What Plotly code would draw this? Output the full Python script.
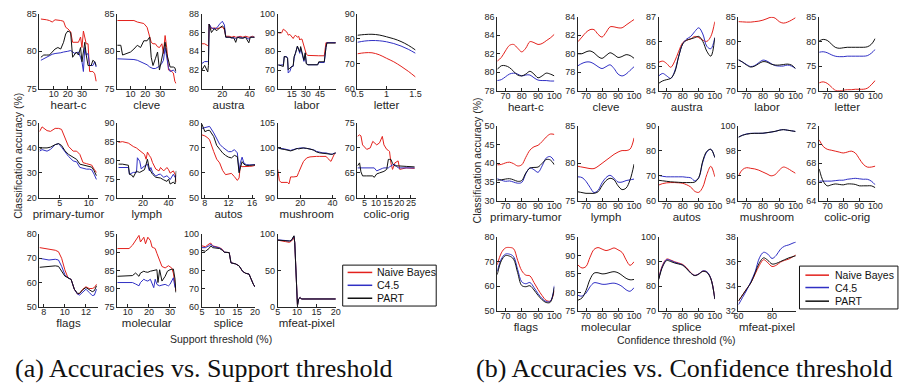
import plotly.graph_objects as go

W, H = 902, 388
NB_COLOR = "#e3211c"
C45_COLOR = "#3030c4"
PART_COLOR = "#111111"
AXIS_COLOR = "#262626"
SANS = "Liberation Sans, Arial, sans-serif"
SERIF = "Liberation Serif, Times New Roman, serif"

SERIES_NAMES = ["Naive Bayes", "C4.5", "PART"]

# ---------------- accuracy vs. support threshold ----------------
heart_c_sup_x = [1, 3, 5, 7, 9, 11, 13, 15, 17, 18.5, 20, 22, 23.4, 25, 26, 27.5, 29, 30, 31, 32, 33, 34.3, 35.4, 36.5, 37.7, 39, 40]
heart_c_sup_nb = [84.3, 84.3, 84.2, 84.1, 83.9, 84.2, 84.2, 84.1, 84.0, 83.2, 83.0, 82.6, 81.2, 81.2, 81.2, 81.2, 81.9, 80.5, 82.7, 82.0, 81.0, 81.0, 77.3, 77.3, 77.3, 77.0, 76.0]
heart_c_sup_c45 = [78.8, 79.0, 79.3, 79.5, 79.6, 79.7, 79.7, 79.8, 79.9, 79.9, 80.0, 80.1, 79.9, 79.7, 79.8, 79.9, 79.2, 78.6, 77.3, 80.5, 79.5, 79.7, 78.1, 78.1, 78.1, 78.6, 77.9]
heart_c_sup_part = [79.2, 79.5, 79.5, 79.5, 79.9, 80.3, 80.5, 80.3, 81.2, 82.3, 82.7, 82.5, 79.2, 79.7, 79.9, 79.5, 80.5, 78.6, 79.8, 81.2, 79.5, 78.1, 78.1, 78.1, 78.8, 78.6, 78.1]

cleve_sup_x = [1, 3.4, 4.6, 7, 10, 12.3, 14.6, 16.8, 19, 21.2, 23, 24, 25.2, 26.8, 28.3, 29.6, 31.2, 32.3, 33.4, 34.5, 35.7, 36.8, 39, 40, 40.8]
cleve_sup_nb = [84.1, 84.1, 84.1, 84.1, 84.1, 84.1, 83.9, 83.8, 83.7, 83.2, 82.0, 81.2, 81.0, 81.0, 80.6, 80.5, 81.0, 79.7, 82.1, 80.5, 77.5, 77.5, 77.1, 76.0, 75.7]
cleve_sup_c45 = [79.0, 79.0, 79.0, 79.0, 78.9, 78.9, 78.8, 78.6, 78.4, 78.2, 77.9, 77.8, 77.7, 77.7, 77.9, 78.0, 78.4, 78.8, 80.5, 79.2, 77.8, 77.3, 77.5, 77.3, 77.1]
cleve_sup_part = [80.8, 80.8, 79.5, 79.7, 79.9, 80.3, 80.8, 80.5, 81.4, 81.4, 81.9, 79.2, 78.1, 79.0, 79.9, 77.5, 79.0, 80.0, 81.2, 79.7, 78.5, 77.9, 77.9, 77.8, 77.3]

austra_sup_x = [5, 7, 9.3, 9.8, 10.3, 12, 14, 16, 18, 20, 21.5, 22.5, 25, 27, 28.5, 29.8, 31, 33, 35, 37, 39.4, 40.5, 42, 43.5]
austra_sup_nb = [84.8, 84.8, 84.6, 84.6, 86.9, 86.4, 86.5, 86.4, 86.5, 86.6, 86.3, 85.6, 85.6, 85.5, 85.6, 85.5, 85.5, 85.6, 85.5, 85.6, 85.5, 85.5, 85.6, 85.5]
austra_sup_c45 = [82.7, 82.9, 82.9, 82.9, 86.9, 86.5, 86.4, 86.5, 86.9, 87.2, 86.8, 85.5, 85.5, 85.4, 85.5, 85.3, 85.5, 85.5, 85.4, 85.5, 85.3, 85.5, 85.5, 85.5]
austra_sup_part = [82.0, 82.5, 81.8, 82.5, 86.9, 86.0, 86.4, 86.2, 86.5, 86.7, 86.5, 85.5, 85.5, 85.4, 85.4, 84.95, 85.5, 85.4, 85.4, 85.5, 84.9, 85.5, 85.5, 85.5]

labor_sup_x = [0.7, 4.2, 6, 7, 9.5, 10.5, 11.2, 13, 14.7, 16.5, 17.5, 18.9, 21, 22.4, 23.5, 24.5, 25.9, 27, 28, 29.4, 30.5, 32.2, 39.2, 42.7, 43.8, 49.7, 51.5, 52.5, 62]
labor_sup_nb = [89.8, 89.8, 91.8, 91.5, 90.4, 89.5, 88.6, 89.0, 87.7, 86.8, 87.7, 88.6, 87.5, 88.0, 86.0, 86.5, 86.5, 84.2, 83.0, 80.7, 78.5, 77.8, 77.5, 77.6, 77.6, 77.6, 84.6, 84.6, 84.6]
labor_sup_c45 = [72.5, 72.5, 72.8, 77.2, 77.2, 76.3, 68.4, 69.3, 71.9, 71.9, 76.3, 78.9, 82.5, 80.7, 78.9, 81.6, 78.9, 76.3, 74.6, 78.9, 73.7, 72.8, 72.8, 72.8, 74.0, 74.0, 82.0, 84.6, 84.6]
labor_sup_part = [72.8, 72.3, 71.9, 77.2, 76.9, 76.3, 70.2, 71.1, 71.9, 72.3, 77.2, 78.9, 82.8, 81.0, 79.7, 82.5, 79.2, 76.6, 75.2, 79.2, 73.3, 72.8, 72.8, 72.8, 74.4, 74.4, 82.0, 84.4, 84.4]

letter_sup_x = [0.5, 0.625, 0.75, 0.875, 1.0, 1.125, 1.25, 1.375, 1.5]
letter_sup_nb = [74.0, 74.4, 74.4, 73.6, 72.2, 70.8, 69.0, 67.0, 64.7]
letter_sup_c45 = [78.6, 79.1, 79.3, 79.2, 78.8, 78.1, 77.1, 75.8, 74.2]
letter_sup_part = [81.4, 81.7, 81.8, 81.5, 80.8, 80.0, 78.9, 77.4, 75.5]

primary_tumor_sup_x = [1.5, 1.95, 2.8, 3.4, 4.2, 4.8, 5.3, 5.9, 6.5, 7.3, 7.9, 8.45, 9.0, 9.6, 10.1, 10.5, 10.9, 11.3]
primary_tumor_sup_nb = [46.5, 48.4, 46.9, 46.6, 47.8, 47.8, 47.4, 43.9, 40.6, 38.7, 38.7, 37.4, 34.1, 33.7, 33.4, 33.1, 31.5, 30.2]
primary_tumor_sup_c45 = [38.7, 39.3, 38.7, 39.4, 41.3, 41.7, 40.3, 38.2, 36.6, 34.8, 34.4, 32.2, 31.8, 31.5, 31.5, 31.2, 29.5, 27.4]
primary_tumor_sup_part = [39.4, 40.0, 40.0, 40.3, 41.3, 41.7, 41.0, 38.8, 37.4, 36.1, 35.4, 33.5, 33.2, 32.8, 32.5, 32.3, 30.9, 28.9]

lymph_sup_x = [1, 4, 8.7, 9.5, 11.2, 12.5, 15, 15.7, 17.5, 18.7, 20, 21.2, 22.5, 23.5, 25, 26.2, 27.5, 30, 32.5, 33.7, 36.2, 38.7, 40, 41.2, 43.7, 45, 46]
lymph_sup_nb = [84.8, 85.0, 84.6, 84.4, 84.2, 83.7, 83.3, 83.1, 82.8, 82.4, 82.0, 81.6, 80.3, 82.2, 81.3, 80.7, 79.4, 77.7, 77.2, 78.1, 77.2, 78.1, 77.5, 76.6, 77.2, 76.3, 74.2]
lymph_sup_c45 = [78.1, 78.1, 78.1, 76.3, 76.6, 76.8, 76.8, 80.7, 79.8, 77.7, 78.2, 78.5, 78.8, 79.0, 77.2, 78.1, 76.8, 75.8, 76.3, 76.3, 75.5, 75.9, 75.5, 74.9, 76.3, 75.5, 75.9]
lymph_sup_part = [79.0, 79.0, 78.7, 76.3, 76.1, 75.5, 77.2, 77.0, 76.8, 77.0, 77.2, 77.5, 79.0, 80.3, 77.7, 77.0, 76.3, 75.5, 75.5, 75.3, 74.8, 74.4, 75.0, 73.7, 74.2, 73.7, 77.2]

autos_sup_x = [7.5, 8.0, 8.5, 8.8, 9.5, 10.0, 10.5, 11.0, 11.5, 12.0, 12.5, 13.0, 13.5, 13.8, 14.0, 14.3, 14.6, 15.0, 15.5, 16.0, 16.5]
autos_sup_nb = [75.2, 74.8, 74.0, 73.2, 68.5, 65.5, 64.0, 61.0, 59.3, 59.5, 59.8, 58.5, 57.0, 58.0, 62.9, 62.5, 62.6, 62.6, 62.6, 62.7, 63.0]
autos_sup_c45 = [77.8, 78.0, 78.4, 78.6, 76.0, 73.5, 71.5, 70.3, 69.5, 68.5, 68.5, 69.3, 68.0, 60.5, 64.0, 66.3, 64.0, 63.3, 63.2, 63.2, 63.3]
autos_sup_part = [79.5, 76.5, 77.0, 77.0, 74.5, 71.0, 69.5, 68.0, 67.0, 66.3, 66.0, 67.0, 66.5, 60.0, 62.0, 64.5, 63.5, 63.0, 63.0, 63.0, 63.2]

mushroom_sup_x = [6, 7, 8, 10, 12, 13, 14, 16, 18, 19, 20, 21, 22, 24, 26, 28, 29, 30, 32, 34, 36, 37, 38, 39, 40, 41, 42]
mushroom_sup_nb = [95.7, 93.5, 93.1, 93.1, 93.1, 92.8, 94.2, 94.2, 94.3, 95.1, 96.0, 96.6, 97.3, 98.0, 98.2, 98.3, 98.3, 98.3, 98.3, 98.3, 98.3, 97.9, 97.6, 97.3, 98.0, 98.7, 99.0]
mushroom_sup_c45 = [100.0, 100.0, 99.9, 99.8, 99.7, 99.6, 99.5, 99.7, 99.9, 99.9, 100.0, 100.0, 100.0, 99.9, 99.8, 99.7, 99.5, 99.3, 99.1, 99.0, 99.0, 98.9, 98.8, 98.7, 98.8, 98.9, 99.0]
mushroom_sup_part = [100.1, 99.9, 99.8, 99.7, 99.6, 99.5, 99.4, 99.6, 99.9, 99.8, 99.9, 100.0, 100.0, 99.9, 99.8, 99.6, 99.4, 99.2, 99.0, 98.9, 98.9, 98.8, 98.7, 98.6, 98.7, 98.9, 99.0]

colic_orig_sup_x = [2, 2.9, 3.5, 4.2, 6, 7.5, 8.6, 9.2, 10.3, 11.5, 12.7, 13.4, 14.6, 15.3, 15.8, 16.4, 17.1, 18.1, 19.5, 20.2, 23, 26.6]
colic_orig_sup_nb = [72.3, 72.6, 72.4, 70.6, 69.7, 70.0, 71.3, 71.0, 70.6, 71.0, 72.3, 70.6, 69.7, 69.5, 69.3, 67.0, 65.7, 67.0, 67.4, 65.7, 66.0, 65.9]
colic_orig_sup_c45 = [66.0, 66.0, 66.0, 66.0, 66.0, 66.0, 66.0, 66.0, 65.4, 65.7, 65.9, 66.0, 66.0, 66.0, 66.2, 66.4, 66.6, 66.7, 66.0, 66.0, 66.0, 66.0]
colic_orig_sup_part = [66.4, 67.0, 65.2, 64.4, 64.4, 64.4, 64.4, 64.1, 64.8, 65.0, 65.1, 65.3, 65.7, 67.7, 67.7, 67.7, 66.9, 66.4, 66.4, 66.4, 66.3, 66.2]

flags_sup_x = [7.6, 8.5, 9.1, 9.4, 9.7, 10.0, 10.3, 10.6, 10.9, 11.2, 11.4, 11.7, 12.0, 12.3, 12.6, 12.8, 13.0]
flags_sup_nb = [74.4, 73.6, 73.3, 72.7, 70.0, 65.3, 62.0, 61.3, 57.3, 55.3, 55.6, 57.3, 58.3, 57.6, 57.6, 58.0, 59.3]
flags_sup_c45 = [70.0, 69.3, 69.6, 69.3, 66.7, 63.3, 62.0, 61.3, 57.3, 55.3, 54.9, 56.0, 57.3, 56.0, 54.7, 54.9, 57.3]
flags_sup_part = [66.3, 66.7, 66.9, 66.7, 64.7, 62.7, 62.0, 61.3, 57.3, 55.6, 55.6, 57.1, 58.0, 57.1, 56.3, 56.7, 58.7]

molecular_sup_x = [5, 10.6, 12.2, 13.7, 15.3, 16.0, 17.6, 18.4, 19.5, 20.7, 21.5, 22.3, 23.0, 23.8, 24.3, 25.1, 26.2, 27.7, 28.8, 29.3, 30.0, 30.8, 31.6, 32.4, 32.8]
molecular_sup_nb = [91.0, 91.0, 91.9, 93.2, 94.6, 92.8, 94.1, 92.3, 94.1, 93.2, 91.4, 91.2, 91.0, 89.7, 89.0, 87.9, 86.1, 85.7, 86.1, 86.3, 86.0, 85.7, 84.3, 81.7, 79.4]
molecular_sup_c45 = [81.7, 81.7, 81.7, 81.3, 80.8, 81.7, 82.6, 82.3, 82.1, 82.6, 81.5, 80.3, 82.6, 81.2, 81.0, 80.8, 81.0, 81.2, 80.9, 80.8, 81.2, 82.0, 83.0, 80.3, 80.3]
molecular_sup_part = [83.4, 83.4, 83.6, 84.3, 83.4, 84.3, 84.8, 84.6, 84.5, 84.8, 84.9, 85.0, 85.1, 85.2, 81.7, 85.2, 82.1, 83.4, 84.8, 85.0, 85.2, 85.3, 85.4, 82.6, 79.0]

splice_sup_x = [5, 6, 7, 7.5, 8, 9, 10, 10.8, 11.3, 12.7, 13.2, 14.5, 15.0, 15.5, 16.5, 17.3, 18.3, 18.8, 19.5, 20]
splice_sup_nb = [93.5, 93.0, 94.5, 95.0, 93.5, 93.0, 92.5, 91.5, 90.0, 89.8, 84.2, 83.6, 83.0, 82.5, 79.5, 78.5, 78.0, 75.5, 72.5, 71.0]
splice_sup_c45 = [92.5, 92.5, 93.5, 94.5, 93.3, 93.0, 92.3, 91.3, 90.0, 89.8, 84.2, 83.6, 83.0, 82.5, 79.5, 78.5, 78.0, 75.5, 72.5, 71.0]
splice_sup_part = [91.0, 90.5, 92.0, 93.5, 92.5, 92.3, 92.0, 91.0, 90.0, 89.8, 84.2, 83.6, 83.0, 82.5, 79.5, 78.5, 78.0, 75.5, 72.5, 71.0]

mfeat_pixel_sup_x = [5, 6, 7, 8, 8.5, 9, 9.2, 9.4, 9.8, 10.1, 10.4, 10.8, 11.1, 12, 14, 16, 18, 20]
mfeat_pixel_sup_nb = [91.5, 91.0, 89.5, 88.5, 90.0, 93.0, 96.0, 88.0, 33.0, 2.0, 11.0, 13.0, 11.0, 11.0, 11.0, 11.0, 11.0, 11.0]
mfeat_pixel_sup_c45 = [92.0, 91.5, 90.5, 90.5, 91.0, 94.5, 97.0, 88.0, 33.0, 2.0, 11.0, 13.0, 11.0, 11.0, 11.0, 11.0, 11.0, 11.0]
mfeat_pixel_sup_part = [91.5, 91.0, 90.0, 90.3, 91.0, 95.0, 97.5, 88.0, 33.0, 2.0, 11.0, 13.0, 11.0, 11.0, 11.0, 11.0, 11.0, 11.0]

# ---------------- accuracy vs. confidence threshold ----------------
conf_x = [65, 67.5, 70, 72.5, 75, 77.5, 80, 82.5, 85, 87.5, 90, 92.5, 95, 97.5, 100]

heart_c_conf_nb = [81.2, 81.6, 82.3, 82.9, 83.0, 82.6, 82.2, 82.6, 83.3, 83.2, 83.0, 83.1, 83.4, 83.7, 84.1]
heart_c_conf_c45 = [79.1, 79.2, 79.5, 79.8, 79.9, 79.8, 79.6, 79.7, 79.7, 79.4, 79.15, 79.1, 79.1, 79.05, 79.05]
heart_c_conf_part = [80.3, 80.7, 80.7, 80.5, 80.1, 79.7, 79.6, 79.8, 80.1, 79.8, 79.4, 79.6, 79.9, 79.8, 79.6]

cleve_conf_nb = [81.3, 81.8, 82.3, 82.6, 82.6, 82.1, 81.8, 82.3, 82.9, 82.9, 82.8, 82.8, 83.1, 83.4, 83.7]
cleve_conf_c45 = [78.7, 78.95, 79.1, 79.1, 78.9, 78.6, 78.4, 78.6, 78.8, 78.4, 77.8, 77.6, 77.8, 78.2, 78.6]
cleve_conf_part = [80.0, 80.0, 80.2, 80.3, 80.1, 79.7, 79.5, 79.8, 80.1, 79.9, 79.6, 79.7, 79.9, 79.8, 79.5]

austra_conf_nb = [85.15, 85.2, 85.1, 84.95, 85.2, 85.6, 85.95, 86.05, 86.1, 86.2, 86.15, 86.05, 86.0, 86.2, 86.8]
austra_conf_c45 = [84.6, 84.7, 84.6, 84.5, 84.8, 85.4, 85.9, 86.1, 86.2, 86.4, 86.55, 86.3, 85.8, 85.7, 86.15]
austra_conf_part = [84.3, 84.4, 84.45, 84.5, 84.75, 85.4, 85.9, 86.05, 86.1, 86.15, 86.2, 86.0, 85.6, 85.4, 86.15]

labor_conf_nb = [84.0, 83.95, 83.9, 83.9, 84.0, 84.1, 84.3, 84.6, 84.9, 84.7, 84.0, 83.7, 83.9, 84.3, 84.8]
labor_conf_c45 = [76.2, 75.8, 75.3, 74.9, 75.1, 75.7, 76.2, 76.0, 75.5, 75.1, 75.0, 75.0, 75.2, 75.0, 74.5]
labor_conf_part = [76.3, 75.8, 75.2, 74.8, 75.0, 75.5, 75.9, 75.8, 75.4, 75.2, 75.2, 75.3, 75.4, 75.2, 74.5]

letter_conf_nb = [71.6, 71.8, 71.5, 70.8, 70.1, 70.0, 70.1, 70.2, 70.2, 70.3, 70.3, 70.3, 70.5, 71.2, 72.1]
letter_conf_c45 = [77.8, 77.9, 77.7, 77.3, 77.0, 76.9, 76.9, 77.0, 77.0, 77.0, 77.0, 77.0, 77.1, 77.6, 78.4]
letter_conf_part = [80.1, 80.4, 80.2, 79.5, 78.8, 78.6, 78.7, 78.8, 78.8, 78.8, 78.8, 78.8, 78.9, 79.4, 80.6]

primary_tumor_conf_nb = [39.6, 39.7, 40.1, 40.3, 39.9, 39.3, 39.6, 41.6, 43.5, 44.4, 44.8, 45.8, 47.0, 47.8, 47.7]
primary_tumor_conf_c45 = [35.9, 35.5, 35.2, 35.3, 35.0, 34.7, 34.9, 37.2, 38.8, 38.3, 37.6, 39.3, 41.4, 41.8, 40.6]
primary_tumor_conf_part = [35.5, 35.6, 35.8, 35.9, 35.6, 35.2, 35.4, 37.4, 38.7, 38.9, 39.0, 40.0, 41.0, 40.9, 39.6]

lymph_conf_nb = [79.6, 79.5, 79.4, 79.3, 79.3, 79.6, 80.0, 80.4, 80.8, 81.2, 81.5, 81.7, 81.7, 81.9, 83.4]
lymph_conf_c45 = [78.2, 78.1, 77.6, 76.8, 76.1, 76.4, 77.4, 78.1, 78.4, 78.0, 77.5, 77.5, 77.7, 77.8, 77.9]
lymph_conf_part = [76.2, 76.1, 76.0, 76.0, 76.0, 76.2, 77.0, 77.7, 78.0, 77.8, 77.0, 76.5, 76.7, 77.8, 79.9]

autos_conf_nb = [66.3, 66.9, 67.2, 67.3, 67.3, 67.2, 67.0, 66.4, 65.5, 63.8, 63.4, 65.5, 70.5, 73.8, 69.6]
autos_conf_c45 = [70.2, 69.8, 69.6, 69.6, 69.6, 69.6, 69.6, 69.4, 69.2, 68.0, 69.3, 75.5, 79.5, 80.6, 77.3]
autos_conf_part = [68.2, 68.0, 67.8, 67.6, 67.5, 67.4, 67.3, 67.3, 67.3, 67.5, 69.3, 76.0, 79.8, 80.6, 77.3]

mushroom_conf_nb = [96.0, 96.5, 96.65, 96.6, 96.55, 96.45, 96.3, 96.15, 96.0, 96.1, 96.45, 96.7, 96.6, 96.4, 96.2]
mushroom_conf_c45 = [99.1, 99.25, 99.35, 99.4, 99.4, 99.4, 99.4, 99.45, 99.5, 99.55, 99.65, 99.7, 99.65, 99.6, 99.55]
mushroom_conf_part = [99.08, 99.24, 99.33, 99.38, 99.4, 99.4, 99.41, 99.45, 99.5, 99.56, 99.64, 99.69, 99.65, 99.6, 99.54]

colic_orig_conf_nb = [70.5, 69.8, 69.5, 69.4, 69.3, 69.2, 69.1, 69.2, 69.3, 69.1, 68.5, 67.9, 67.6, 67.6, 67.7]
colic_orig_conf_c45 = [66.1, 66.1, 66.1, 66.1, 66.15, 66.2, 66.2, 66.3, 66.35, 66.4, 66.35, 66.3, 66.3, 66.1, 65.7]
colic_orig_conf_part = [67.4, 66.1, 65.6, 65.7, 65.8, 65.75, 65.7, 65.8, 65.8, 65.75, 65.6, 65.6, 65.6, 65.6, 65.4]

flags_conf_nb = [68.7, 73.5, 75.5, 75.7, 75.2, 70.5, 66.3, 64.5, 64.2, 61.5, 58.7, 56.2, 54.3, 54.0, 58.2]
flags_conf_c45 = [66.0, 71.0, 73.0, 73.0, 72.0, 66.8, 61.8, 61.0, 61.5, 59.5, 57.0, 55.0, 53.8, 53.9, 60.2]
flags_conf_part = [64.7, 70.3, 72.4, 72.2, 71.0, 65.5, 60.3, 59.8, 60.2, 58.5, 56.3, 54.5, 53.4, 53.5, 59.6]

molecular_conf_nb = [87.4, 86.6, 87.0, 89.5, 91.6, 92.1, 91.7, 91.3, 91.6, 92.0, 91.5, 90.8, 88.8, 87.3, 88.3]
molecular_conf_c45 = [79.2, 79.0, 79.8, 81.5, 82.6, 82.5, 82.2, 82.2, 82.4, 82.5, 82.2, 81.6, 80.7, 80.3, 81.3]
molecular_conf_part = [77.9, 78.5, 80.5, 83.5, 85.2, 85.3, 85.0, 85.1, 85.4, 85.6, 85.3, 84.6, 83.8, 83.4, 83.5]

splice_conf_nb = [83.3, 88.7, 91.0, 90.6, 89.9, 89.4, 88.8, 87.4, 85.5, 84.4, 85.0, 86.1, 85.8, 83.2, 74.8]
splice_conf_c45 = [83.0, 88.4, 90.8, 90.4, 89.7, 89.2, 88.6, 87.2, 85.4, 84.4, 85.0, 86.2, 85.9, 83.2, 74.8]
splice_conf_part = [82.7, 88.0, 90.4, 90.0, 89.4, 89.0, 88.5, 87.0, 85.3, 84.3, 84.9, 86.0, 85.6, 83.0, 74.8]

mfeat_pixel_conf_x = [60, 62.5, 65, 67.5, 70, 72.5, 75, 77.5, 80, 82.5, 85, 87.5, 90, 92.5, 95]
mfeat_pixel_conf_nb = [32.8, 33.3, 33.8, 34.3, 35.0, 35.7, 36.15, 35.9, 35.6, 35.7, 35.95, 36.1, 36.2, 36.4, 36.6]
mfeat_pixel_conf_c45 = [32.5, 33.1, 33.7, 34.4, 35.2, 36.3, 36.75, 36.6, 36.25, 36.5, 37.0, 37.25, 37.35, 37.5, 37.6]
mfeat_pixel_conf_part = [32.8, 33.3, 33.8, 34.3, 35.1, 35.9, 36.3, 36.1, 35.8, 35.85, 36.0, 36.15, 36.3, 36.4, 36.5]

# ---------------- grid of small panels (pixel boxes) ----------------
A_COLS = [(34, 93), (113, 173), (199, 253), (276, 335), (357, 416)]
A_ROWS = [(9, 86), (121, 198), (235, 310)]
B_COLS = [(499, 557), (581, 638), (663, 720), (744, 802), (826, 883)]
B_ROWS = [(12, 88), (124, 201), (238, 314)]

conf_ticks = [70, 80, 90, 100]

support_panels = [
    ("heart-c", heart_c_sup_x, (heart_c_sup_nb, heart_c_sup_c45, heart_c_sup_part), [0, 41], [10, 20, 30], [75, 85], [75, 80, 85], "linear"),
    ("cleve", cleve_sup_x, (cleve_sup_nb, cleve_sup_c45, cleve_sup_part), [1, 41], [10, 20, 30], [75, 85], [75, 80, 85], "linear"),
    ("austra", austra_sup_x, (austra_sup_nb, austra_sup_c45, austra_sup_part), [5, 44], [20, 40], [80, 88], [80, 82, 84, 86, 88], "linear"),
    ("labor", labor_sup_x, (labor_sup_nb, labor_sup_c45, labor_sup_part), [0, 62], [15, 30, 45], [60, 100], [60, 70, 80, 90, 100], "linear"),
    ("letter", letter_sup_x, (letter_sup_nb, letter_sup_c45, letter_sup_part), [0.5, 1.5], [0.5, 1, 1.5], [60, 90], [60, 70, 80, 90], "spline"),
    ("primary-tumor", primary_tumor_sup_x, (primary_tumor_sup_nb, primary_tumor_sup_c45, primary_tumor_sup_part), [1.5, 11.5], [5, 10], [20, 50], [20, 30, 40, 50], "linear"),
    ("lymph", lymph_sup_x, (lymph_sup_nb, lymph_sup_c45, lymph_sup_part), [0, 46], [20, 40], [70, 90], [70, 75, 80, 85, 90], "linear"),
    ("autos", autos_sup_x, (autos_sup_nb, autos_sup_c45, autos_sup_part), [7.5, 16.5], [8, 12, 16], [50, 80], [50, 60, 70, 80], "linear"),
    ("mushroom", mushroom_sup_x, (mushroom_sup_nb, mushroom_sup_c45, mushroom_sup_part), [6, 42], [20, 40], [90, 105], [90, 95, 100, 105], "linear"),
    ("colic-orig", colic_orig_sup_x, (colic_orig_sup_nb, colic_orig_sup_c45, colic_orig_sup_part), [2, 27], [5, 10, 15, 20, 25], [60, 75], [60, 65, 70, 75], "linear"),
    ("flags", flags_sup_x, (flags_sup_nb, flags_sup_c45, flags_sup_part), [7.6, 13.1], [8, 10, 12], [50, 80], [50, 60, 70, 80], "linear"),
    ("molecular", molecular_sup_x, (molecular_sup_nb, molecular_sup_c45, molecular_sup_part), [5, 33], [10, 20, 30], [75, 95], [75, 80, 85, 90, 95], "linear"),
    ("splice", splice_sup_x, (splice_sup_nb, splice_sup_c45, splice_sup_part), [5, 20], [5, 10, 15, 20], [60, 100], [60, 70, 80, 90, 100], "linear"),
    ("mfeat-pixel", mfeat_pixel_sup_x, (mfeat_pixel_sup_nb, mfeat_pixel_sup_c45, mfeat_pixel_sup_part), [5, 20], [5, 10, 15, 20], [0, 100], [0, 50, 100], "linear"),
]

confidence_panels = [
    ("heart-c", conf_x, (heart_c_conf_nb, heart_c_conf_c45, heart_c_conf_part), [65, 100], conf_ticks, [78, 86], [78, 80, 82, 84, 86], "spline"),
    ("cleve", conf_x, (cleve_conf_nb, cleve_conf_c45, cleve_conf_part), [65, 100], conf_ticks, [76, 84], [76, 78, 80, 82, 84], "spline"),
    ("austra", conf_x, (austra_conf_nb, austra_conf_c45, austra_conf_part), [65, 100], conf_ticks, [84, 87], [84, 85, 86, 87], "spline"),
    ("labor", conf_x, (labor_conf_nb, labor_conf_c45, labor_conf_part), [65, 100], conf_ticks, [70, 85], [70, 75, 80, 85], "spline"),
    ("letter", conf_x, (letter_conf_nb, letter_conf_c45, letter_conf_part), [65, 100], conf_ticks, [70, 85], [70, 75, 80, 85], "spline"),
    ("primary-tumor", conf_x, (primary_tumor_conf_nb, primary_tumor_conf_c45, primary_tumor_conf_part), [65, 100], conf_ticks, [30, 50], [30, 35, 40, 45, 50], "spline"),
    ("lymph", conf_x, (lymph_conf_nb, lymph_conf_c45, lymph_conf_part), [65, 100], conf_ticks, [75, 85], [75, 80, 85], "spline"),
    ("autos", conf_x, (autos_conf_nb, autos_conf_c45, autos_conf_part), [65, 100], conf_ticks, [60, 90], [60, 70, 80, 90], "spline"),
    ("mushroom", conf_x, (mushroom_conf_nb, mushroom_conf_c45, mushroom_conf_part), [65, 100], conf_ticks, [94, 100], [94, 96, 98, 100], "spline"),
    ("colic-orig", conf_x, (colic_orig_conf_nb, colic_orig_conf_c45, colic_orig_conf_part), [65, 100], conf_ticks, [64, 72], [64, 66, 68, 70, 72], "spline"),
    ("flags", conf_x, (flags_conf_nb, flags_conf_c45, flags_conf_part), [65, 100], conf_ticks, [50, 80], [50, 60, 70, 80], "spline"),
    ("molecular", conf_x, (molecular_conf_nb, molecular_conf_c45, molecular_conf_part), [65, 100], conf_ticks, [75, 95], [75, 80, 85, 90, 95], "spline"),
    ("splice", conf_x, (splice_conf_nb, splice_conf_c45, splice_conf_part), [65, 100], conf_ticks, [70, 100], [70, 80, 90, 100], "spline"),
    ("mfeat-pixel", mfeat_pixel_conf_x, (mfeat_pixel_conf_nb, mfeat_pixel_conf_c45, mfeat_pixel_conf_part), [60, 94], [60, 80], [32, 38], [32, 34, 36, 38], "spline"),
]

COLORS = [NB_COLOR, C45_COLOR, PART_COLOR]

fig = go.Figure()
layout = dict(
    width=W, height=H, margin=dict(l=0, r=0, t=0, b=0),
    paper_bgcolor="white", plot_bgcolor="white", showlegend=False,
    font=dict(family=SANS, color=AXIS_COLOR),
)


def add_panel(idx, panel, box):
    name, xs, series, xr, xt, yr, yt, shape = panel
    (x0, x1), (y0, y1) = box
    sfx = "" if idx == 1 else str(idx)
    for ys, color in zip(series, COLORS):
        fig.add_trace(go.Scatter(
            x=xs, y=ys, mode="lines", xaxis="x" + sfx, yaxis="y" + sfx,
            line=dict(color=color, width=1, shape=shape), hoverinfo="skip",
        ))
    common = dict(showline=True, linecolor=AXIS_COLOR, linewidth=1, ticks="inside",
                  ticklen=3, tickcolor=AXIS_COLOR, showgrid=False, zeroline=False, tickangle=0,
                  tickfont=dict(size=9, family=SANS, color=AXIS_COLOR), fixedrange=True)
    layout["xaxis" + sfx] = dict(
        common, domain=[x0 / W, x1 / W], range=xr, tickvals=xt, anchor="y" + sfx,
        ticklabelstandoff=-4,
        title=dict(text=name, standoff=0, font=dict(size=11.5, family=SANS, color=AXIS_COLOR)),
    )
    layout["yaxis" + sfx] = dict(
        common, domain=[1 - y1 / H, 1 - y0 / H], range=yr, tickvals=yt, anchor="x" + sfx,
    )


idx = 1
for k, panel in enumerate(support_panels):
    add_panel(idx, panel, (A_COLS[k % 5], A_ROWS[k // 5]))
    idx += 1
for k, panel in enumerate(confidence_panels):
    add_panel(idx, panel, (B_COLS[k % 5], B_ROWS[k // 5]))
    idx += 1

annotations = []
shapes = []


def px(x):
    return x / W


def py(y):
    return 1 - y / H


def label(text, x, y, size, family=SANS, color=AXIS_COLOR, angle=0, xanchor="center"):
    annotations.append(dict(text=text, x=px(x), y=py(y), xref="paper", yref="paper", showarrow=False,
                            textangle=angle, xanchor=xanchor, yanchor="middle",
                            font=dict(size=size, family=family, color=color)))


# shared axis labels and captions
label("Classification accuracy (%)", 12, 155, 10.5, angle=-90)
label("Classification accuracy (%)", 478, 160, 10.5, angle=-90)
label("Support threshold (%)", 218, 343, 10.5)
label("Confidence threshold (%)", 681, 344, 10.5)
label("(a) Accuracies vs. Support threshold", 201, 373, 26, family=SERIF, color="#111111")
label("(b) Accuracies vs. Confidence threshold", 689, 373, 26, family=SERIF, color="#111111")

# legends
for (bx0, by0, bx1, by1, lx0, lx1, tx, rows) in [
    (342, 267, 437, 309, 347, 372, 375, (274.5, 287.7, 301)),
    (806, 268, 906, 312, 812, 836, 840, (277.3, 290, 304)),
]:
    shapes.append(dict(type="rect", xref="paper", yref="paper", x0=px(bx0), x1=px(bx1), y0=py(by1), y1=py(by0),
                       line=dict(color="#111111", width=1), fillcolor="white", layer="above"))
    for name, color, ry in zip(SERIES_NAMES, COLORS, rows):
        shapes.append(dict(type="line", xref="paper", yref="paper", x0=px(lx0), x1=px(lx1), y0=py(ry), y1=py(ry),
                           line=dict(color=color, width=1.5), layer="above"))
        label(name, tx, ry, 10.5, color="#111111", xanchor="left")

layout["annotations"] = annotations
layout["shapes"] = shapes
fig.update_layout(**layout)
fig.write_html("out.html")
